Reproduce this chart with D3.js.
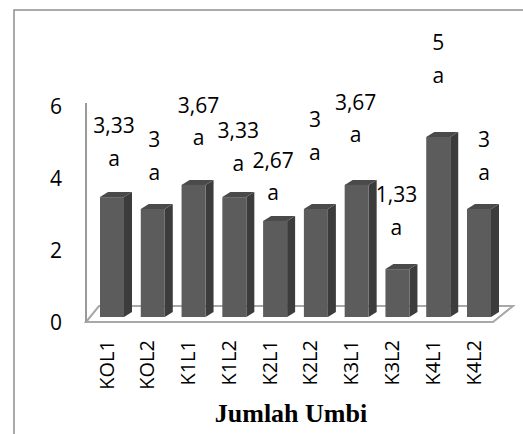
<!DOCTYPE html>
<html>
<head>
<meta charset="utf-8">
<script src="https://cdn.jsdelivr.net/npm/d3@7"></script>
<style>
  html, body { margin: 0; padding: 0; background: #fff; }
  svg { display: block; }
</style>
</head>
<body>
<svg id="chart" width="523" height="434"></svg>
<script>
// Treatment codes and mean tuber count per treatment
const categories = ["KOL1", "KOL2", "K1L1", "K1L2", "K2L1", "K2L2", "K3L1", "K3L2", "K4L1", "K4L2"];
const values = [3.33, 3, 3.67, 3.33, 2.67, 3, 3.67, 1.33, 5, 3];
const letters = ["a", "a", "a", "a", "a", "a", "a", "a", "a", "a"];
const yTicks = [0, 2, 4, 6];

// Hand placement of the data labels (pixels above bar top, horizontal shift)
const labelLift = [64, 62, 72, 59, 53, 82, 75, 67, 87, 62];
const labelShift = [2, 1.5, 5, 4, -2, -1, -1, -1, 0, 5];

const svg = d3.select("#chart");
const fontSans = "'Open Sans', 'Noto Sans', sans-serif";

// Chart frame
svg.append("rect")
  .attr("x", 14).attr("y", 10)
  .attr("width", 700).attr("height", 700)
  .attr("fill", "none")
  .attr("stroke", "#8f8f8f")
  .attr("stroke-width", 1.5);

const y = d3.scaleLinear().domain([0, 6]).range([322, 106]);
const x = d3.scalePoint().domain(categories).range([112, 479]);

const barW = 24, depthX = 8, depthY = 5, lift = 5;

// Floor of the 3-D plot
const floorFront = y(0), floorBack = y(0) - 16;
svg.append("polygon")
  .attr("points", [[86, floorFront], [99, floorBack], [513, floorBack], [493, floorFront]].map(p => p.join(",")).join(" "))
  .attr("fill", "#fff")
  .attr("stroke", "#a8a8a8")
  .attr("stroke-width", 2)
  .attr("stroke-linejoin", "miter");

// Value axis line
svg.append("line")
  .attr("x1", 86).attr("x2", 86)
  .attr("y1", y(6) - 3).attr("y2", y(0))
  .attr("stroke", "#9a9a9a")
  .attr("stroke-width", 2);

// Value axis labels
svg.append("g").selectAll("text")
  .data(yTicks)
  .join("text")
  .attr("x", 62)
  .attr("y", d => y(d) + 7.5)
  .attr("text-anchor", "end")
  .attr("font-family", fontSans)
  .attr("font-size", 21)
  .attr("fill", "#000")
  .text(d => d);

// Bars: front, side and top faces
const bars = svg.append("g").selectAll("g")
  .data(categories.map((c, i) => ({ c, v: values[i], i })))
  .join("g");

const base = y(0) - lift;
bars.each(function (d) {
  const g = d3.select(this);
  const x0 = x(d.c) - barW / 2;
  const top = y(d.v) - lift;
  g.append("polygon")
    .attr("points", [[x0 + barW, top], [x0 + barW + depthX, top - depthY], [x0 + barW + depthX, base - depthY], [x0 + barW, base]].map(p => p.join(",")).join(" "))
    .attr("fill", "#3c3c3c");
  g.append("polygon")
    .attr("points", [[x0, top], [x0 + depthX, top - depthY], [x0 + barW + depthX, top - depthY], [x0 + barW, top]].map(p => p.join(",")).join(" "))
    .attr("fill", "#4a4a4a");
  g.append("rect")
    .attr("x", x0).attr("y", top)
    .attr("width", barW).attr("height", base - top)
    .attr("fill", "#5c5c5c");
});

// Data labels: value and significance letter
const labels = svg.append("g").selectAll("g")
  .data(categories.map((c, i) => ({ c, v: values[i], i })))
  .join("g")
  .attr("font-family", fontSans)
  .attr("font-size", 21)
  .attr("text-anchor", "middle")
  .attr("fill", "#000");

labels.append("text")
  .attr("x", d => x(d.c) + labelShift[d.i])
  .attr("y", d => y(d.v) - lift - labelLift[d.i])
  .text(d => String(d.v).replace(".", ","));

labels.append("text")
  .attr("x", d => x(d.c) + labelShift[d.i])
  .attr("y", d => y(d.v) - lift - labelLift[d.i] + 32.5)
  .text(d => letters[d.i]);

// Category labels, rotated
svg.append("g").selectAll("text")
  .data(categories)
  .join("text")
  .attr("transform", d => `translate(${x(d) + 1.5},340) rotate(-90)`)
  .attr("text-anchor", "end")
  .attr("font-family", fontSans)
  .attr("font-size", 20)
  .attr("fill", "#000")
  .text(d => d);

// Axis title
svg.append("text")
  .attr("x", 291).attr("y", 421.5)
  .attr("text-anchor", "middle")
  .attr("font-family", "'Liberation Serif', 'Times New Roman', serif")
  .attr("font-weight", "bold")
  .attr("font-size", 26)
  .attr("fill", "#000")
  .text("Jumlah Umbi");
</script>
</body>
</html>
